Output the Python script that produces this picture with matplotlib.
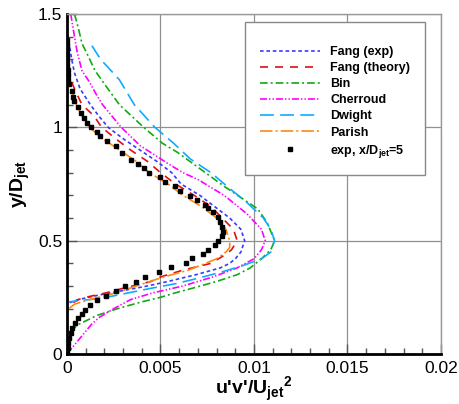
import numpy as np
import matplotlib
matplotlib.use("Agg")
import matplotlib.pyplot as plt
from matplotlib.ticker import MultipleLocator

plt.rcParams['font.family'] = ['Liberation Sans', 'DejaVu Sans']
plt.rcParams['mathtext.fontset'] = 'custom'
plt.rcParams['mathtext.rm'] = 'Liberation Sans'
plt.rcParams['mathtext.bf'] = 'Liberation Sans:bold'
plt.rcParams['lines.scale_dashes'] = False

# profiles: y/D_jet (top to bottom) and u'v'/U_jet^2
fang_exp_y = [1.38, 1.30, 1.24, 1.17, 1.10, 1.05, 1.0, 0.95, 0.9, 0.85, 0.8, 0.75, 0.7, 0.65, 0.6,
              0.55, 0.5, 0.45, 0.42, 0.40, 0.38, 0.35, 0.32, 0.30, 0.28, 0.26, 0.24, 0.225]
fang_exp_x = [0.0001, 0.00025, 0.0004, 0.0007, 0.00125, 0.0017, 0.0022, 0.003, 0.0039, 0.0048, 0.0056,
              0.0061, 0.0071, 0.0079, 0.0087, 0.0093, 0.0095, 0.0093, 0.0090, 0.0087, 0.0082, 0.0069,
              0.0054, 0.0043, 0.0030, 0.0017, 0.0006, 0.0001]

fang_th_y = [1.33, 1.28, 1.21, 1.17, 1.1, 1.05, 1.0, 0.95, 0.9, 0.85, 0.8, 0.75, 0.7, 0.65, 0.6, 0.55,
             0.5, 0.46, 0.44, 0.40, 0.37, 0.34, 0.32, 0.29, 0.27, 0.25, 0.24, 0.22, 0.20]
fang_th_x = [0.0, 0.0001, 0.0002, 0.0004, 0.0008, 0.00145, 0.00185, 0.0026, 0.0034, 0.0043, 0.0050,
             0.0058, 0.0068, 0.0077, 0.0083, 0.0089, 0.0091, 0.0088, 0.0085, 0.0077, 0.0062, 0.0050,
             0.0045, 0.0030, 0.0021, 0.0010, 0.0006, 0.0002, 0.0]

bin_y = [1.5, 1.44, 1.37, 1.32, 1.25, 1.18, 1.1, 1.0, 0.93, 0.89, 0.8, 0.74, 0.64, 0.58, 0.5, 0.46,
         0.42, 0.38, 0.35, 0.32, 0.29, 0.27, 0.25, 0.23, 0.2, 0.17, 0.15, 0.13, 0.1, 0.05, 0.0]
bin_x = [0.0004, 0.0006, 0.0008, 0.0011, 0.0015, 0.0021, 0.0028, 0.0041, 0.0051, 0.0059, 0.0074,
         0.0084, 0.0102, 0.0107, 0.0111, 0.0109, 0.0104, 0.0098, 0.0091, 0.0080, 0.0067, 0.0058,
         0.0050, 0.0040, 0.0027, 0.0016, 0.0011, 0.0006, 0.0002, 0.0001, 0.0]

cher_y = [1.5, 1.4, 1.33, 1.25, 1.2, 1.14, 1.1, 1.0, 0.92, 0.84, 0.8, 0.77, 0.7, 0.62, 0.55, 0.5,
          0.46, 0.42, 0.38, 0.34, 0.3, 0.27, 0.24, 0.2, 0.16, 0.13, 0.1, 0.05, 0.0]
cher_x = [0.0002, 0.0004, 0.00055, 0.0008, 0.0012, 0.0016, 0.0019, 0.0029, 0.0039, 0.0054, 0.0062,
          0.0070, 0.0084, 0.0096, 0.0104, 0.0106, 0.0104, 0.0100, 0.0091, 0.0078, 0.0062, 0.0046,
          0.0034, 0.0025, 0.0017, 0.0013, 0.0010, 0.0005, 0.0]

dwight_y = [1.36, 1.30, 1.21, 1.1, 1.0, 0.93, 0.86, 0.8, 0.73, 0.67, 0.6, 0.55, 0.5, 0.45, 0.42,
            0.39, 0.36, 0.33, 0.31, 0.29, 0.27, 0.25, 0.24, 0.235, 0.23]
dwight_x = [0.00133, 0.0018, 0.0028, 0.0036, 0.0047, 0.0057, 0.0066, 0.0077, 0.0087, 0.0096, 0.0105,
            0.0109, 0.0111, 0.0109, 0.0104, 0.0094, 0.0082, 0.0068, 0.0058, 0.0045, 0.0033, 0.0021,
            0.0012, 0.0006, 0.0001]

parish_y = [1.35, 1.25, 1.18, 1.1, 1.05, 1.0, 0.95, 0.9, 0.85, 0.8, 0.75, 0.7, 0.65, 0.6, 0.55, 0.5,
            0.47, 0.45, 0.42, 0.39, 0.37, 0.35, 0.33, 0.30, 0.28, 0.26, 0.24, 0.22, 0.20, 0.19]
parish_x = [0.0, 0.0001, 0.0002, 0.0005, 0.0008, 0.0012, 0.0019, 0.0028, 0.0037, 0.0044, 0.0054,
            0.0062, 0.0072, 0.0080, 0.0085, 0.0087, 0.0087, 0.0085, 0.0080, 0.0071, 0.0065, 0.0056,
            0.0048, 0.0037, 0.0030, 0.0022, 0.0012, 0.0004, 0.0001, 0.0]

exp_y = [1.386, 1.364, 1.342, 1.32, 1.298, 1.276, 1.254, 1.232, 1.21, 1.19, 1.159, 1.136, 1.114, 1.09,
         1.063, 1.04, 1.019, 1.001, 0.979, 0.96, 0.938, 0.916, 0.887, 0.857, 0.838, 0.82, 0.798,
         0.779, 0.759, 0.739, 0.717, 0.698, 0.678, 0.659, 0.643, 0.625, 0.603, 0.581, 0.559, 0.537,
         0.519, 0.5, 0.481, 0.46, 0.441, 0.422, 0.401, 0.382, 0.363, 0.339, 0.319, 0.298, 0.278,
         0.257, 0.237, 0.216, 0.195, 0.178, 0.157, 0.137, 0.116, 0.093, 0.07, 0.048, 0.026, 0.004]
exp_x = [0.0, 0.0, 0.0, 0.0, 0.00002, 0.00002, 0.00003, 0.00005, 0.00005, 0.0001, 0.00025, 0.00032,
         0.0004, 0.0006, 0.00073, 0.0009, 0.00109, 0.00126, 0.00162, 0.00175, 0.00216, 0.0026,
         0.00296, 0.0034, 0.0038, 0.0041, 0.00438, 0.005, 0.00526, 0.0058, 0.00606, 0.0066, 0.00695,
         0.0074, 0.00755, 0.0078, 0.0081, 0.0082, 0.0083, 0.00836, 0.00827, 0.0081, 0.0079, 0.00755,
         0.00725, 0.00666, 0.00636, 0.00554, 0.00493, 0.00417, 0.0037, 0.0031, 0.00264, 0.00206,
         0.00162, 0.00121, 0.00096, 0.00078, 0.0006, 0.00043, 0.00028, 0.00019, 0.0001, 0.00007,
         0.00005, 0.0]

xticks = [0, 0.005, 0.01, 0.015, 0.02]
xticklabels = ["0", "0.005", "0.01", "0.015", "0.02"]
yticks = [0, 0.5, 1, 1.5]
yticklabels = ["0", "0.5", "1", "1.5"]

fig = plt.figure(figsize=(4.6, 4.04), dpi=100)
ax = fig.add_axes([67 / 460, 50 / 404, 374 / 460, 340 / 404])

lw = 1.2
ax.plot(fang_exp_x, fang_exp_y, color='#3a3aff', lw=lw, ls=(0, (2.6, 2.0)), label='Fang (exp)')
ax.plot(fang_th_x, fang_th_y, color='#dd1111', lw=lw, ls=(0, (5.8, 5.0)), label='Fang (theory)')
ax.plot(bin_x, bin_y, color='#11aa11', lw=lw, ls=(0, (5.5, 2.2, 1.4, 2.2)), label='Bin')
ax.plot(cher_x, cher_y, color='#ff00ff', lw=lw, ls=(0, (5.0, 1.5, 1.0, 1.5, 1.0, 1.5)), label='Cherroud')
ax.plot(dwight_x, dwight_y, color='#11aaff', lw=lw, ls=(0, (10, 4.5)), label='Dwight')
ax.plot(parish_x, parish_y, color='#ff8811', lw=lw, ls=(0, (9, 2.2, 1.5, 2.2)), label='Parish')
ax.plot(exp_x, exp_y, 's', color='black', ms=3.4, ls='none', label='exp, x/D$_{\\mathbf{jet}}$=5')

ax.set_xlim(0, 0.02)
ax.set_ylim(0, 1.5)
ax.set_xticks(xticks)
ax.set_xticklabels(xticklabels)
ax.set_yticks(yticks)
ax.set_yticklabels(yticklabels)
ax.xaxis.set_minor_locator(MultipleLocator(0.001))
ax.yaxis.set_minor_locator(MultipleLocator(0.1))
ax.tick_params(which='both', direction='in', labelsize=12.5, width=1, color='#555555')
ax.tick_params(which='major', length=7)
ax.tick_params(which='minor', length=4)
ax.tick_params(axis='x', pad=5)
ax.grid(True, which='major', color='#909090', lw=0.9)
ax.set_axisbelow(True)

for s in ['left', 'bottom']:
    ax.spines[s].set_linewidth(2)
    ax.spines[s].set_color('black')
for s in ['top', 'right']:
    ax.spines[s].set_linewidth(1)
    ax.spines[s].set_color('#999999')

ax.set_xlabel("u'v'/U$_{\\mathbf{jet}}$$^{\\mathbf{2}}$", fontsize=14, fontweight='bold')
ax.xaxis.set_label_coords(0.5, -0.06)
ax.set_ylabel("y/D$_{\\mathbf{jet}}$", fontsize=14, fontweight='bold', labelpad=4)

leg = ax.legend(loc='upper left', bbox_to_anchor=(0.476, 0.977), borderaxespad=0,
                prop={'weight': 'bold', 'size': 9}, handlelength=4.8, handletextpad=0.8,
                labelspacing=0.33, borderpad=1.2, numpoints=1, fancybox=False,
                framealpha=1, edgecolor='#888888', title=' ', title_fontsize=4)
leg.get_frame().set_linewidth(1)

fig.savefig("out.png", dpi=100)
